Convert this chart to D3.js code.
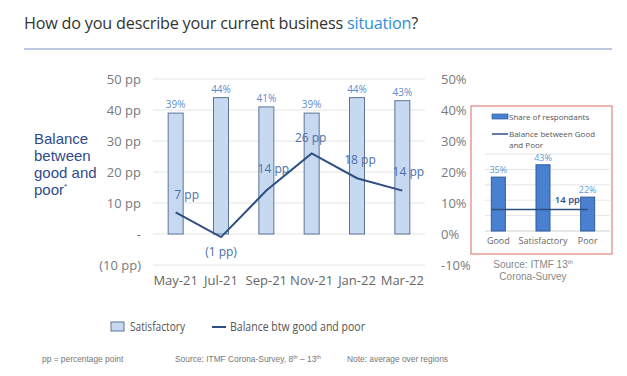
<!DOCTYPE html>
<html><head><meta charset="utf-8">
<script src="https://cdn.jsdelivr.net/npm/d3@7"></script>
<style>body{margin:0;background:#fff}svg{display:block}</style>
</head><body>
<svg id="c" width="627" height="376"></svg>
<script>
const months = ["May-21","Jul-21","Sep-21","Nov-21","Jan-22","Mar-22"];
const satisfactory = [39,44,41,39,44,43];
const balance = [7,-1,14,26,18,14];
const leftTicks = [50,40,30,20,10,0,-10];
const leftTickLabels = ["50 pp","40 pp","30 pp","20 pp","10 pp","-","(10 pp)"];
const rightTickLabels = ["50%","40%","30%","20%","10%","0%","-10%"];
const balanceLabels = ["7 pp","(1 pp)","14 pp","26 pp","18 pp","14 pp"];
const insetCats = ["Good","Satisfactory","Poor"];
const insetShare = [35,43,22];
const insetBalance = 14;
const insetTicks = [0,10,20,30,40,50];

const svg = d3.select("#c");
const sans = "'Open Sans', 'Noto Sans', sans-serif";
const arial = "'Liberation Sans', Arial, sans-serif";

// Title
const t = svg.append("text").attr("x",24).attr("y",29).attr("font-family",sans).attr("font-size",16.2)
  .attr("letter-spacing",-0.2).attr("fill","#333");
t.append("tspan").text("How do you describe your current business ");
t.append("tspan").attr("fill","#2f8fd6").text("situation");
t.append("tspan").text("?");
svg.append("line").attr("x1",24).attr("x2",612).attr("y1",49).attr("y2",49).attr("stroke","#a9b9d8").attr("stroke-width",1.5);

// Main chart
const x = d3.scaleBand().domain(months).range([153,425]);
const y = d3.scaleLinear().domain([-10,50]).range([265,79]);

const grid = svg.append("g");
leftTicks.forEach(v=>{
  grid.append("line").attr("x1",153).attr("x2",425).attr("y1",y(v)).attr("y2",y(v)).attr("stroke","#e4e4e4").attr("stroke-width",1);
});

const lAxis = svg.append("g").attr("transform","translate(141,0)")
  .call(d3.axisLeft(y).tickValues(leftTicks).tickSize(0).tickPadding(0).tickFormat((d,i)=>leftTickLabels[i]));
lAxis.select(".domain").remove();
lAxis.selectAll("text").attr("font-family",sans).attr("font-size",13).attr("fill","#7a7a7a");

const rAxis = svg.append("g").attr("transform","translate(441,0)")
  .call(d3.axisRight(y).tickValues(leftTicks).tickSize(0).tickPadding(0).tickFormat((d,i)=>rightTickLabels[i]));
rAxis.select(".domain").remove();
rAxis.selectAll("text").attr("font-family",sans).attr("font-size",13).attr("fill","#7a7a7a");

const xAxis = svg.append("g").attr("transform","translate(0,275)")
  .call(d3.axisBottom(x).tickSize(0).tickPadding(0));
xAxis.select(".domain").remove();
xAxis.selectAll("text").attr("font-family",sans).attr("font-size",13).attr("fill","#666").attr("dy","0.8em");

const bw = 15;
svg.append("g").selectAll("rect").data(satisfactory).join("rect")
  .attr("x",(d,i)=>x(months[i])+x.bandwidth()/2-bw/2).attr("width",bw)
  .attr("y",d=>y(d)).attr("height",d=>y(0)-y(d))
  .attr("fill","#c6d9f1").attr("stroke","#5d7595").attr("stroke-width",1);
svg.append("g").selectAll("text").data(satisfactory).join("text")
  .attr("x",(d,i)=>x(months[i])+x.bandwidth()/2).attr("y",d=>y(d)-5)
  .attr("text-anchor","middle").attr("font-family",sans).attr("font-size",10).attr("fill","#5b8bd0")
  .text(d=>d+"%");

const line = d3.line().x((d,i)=>x(months[i])+x.bandwidth()/2).y(d=>y(d));
svg.append("path").datum(balance).attr("d",line).attr("fill","none").attr("stroke","#2e4f82").attr("stroke-width",2);

const lblOff = [[11,-13],[0,19],[7,-18],[-1,-11],[3,-14],[6,-15]];
svg.append("g").selectAll("text").data(balance).join("text")
  .attr("x",(d,i)=>x(months[i])+x.bandwidth()/2+lblOff[i][0]).attr("y",(d,i)=>y(d)+lblOff[i][1])
  .attr("text-anchor","middle").attr("font-family",sans).attr("font-size",12).attr("fill","#4a6fa8")
  .text((d,i)=>balanceLabels[i]);

// Left label
const bl = svg.append("text").attr("font-family",arial).attr("font-size",15).attr("fill","#2f4b8b");
["Balance","between","good and","poor"].forEach((s,i)=>{
  bl.append("tspan").attr("x",34).attr("y",144+i*17).text(s);
});
bl.append("tspan").attr("font-size",8).attr("dy",-6).text("*");

// Legend
svg.append("rect").attr("x",111).attr("y",322).attr("width",13).attr("height",9).attr("fill","#c6d9f1").attr("stroke","#5d7595");
svg.append("text").attr("x",130).attr("y",331).attr("font-family",sans).attr("font-size",13).attr("fill","#555")
  .attr("textLength",55).attr("lengthAdjust","spacingAndGlyphs").text("Satisfactory");
svg.append("line").attr("x1",212).attr("x2",226).attr("y1",327).attr("y2",327).attr("stroke","#2e4f82").attr("stroke-width",2);
svg.append("text").attr("x",230).attr("y",331).attr("font-family",sans).attr("font-size",13).attr("fill","#555")
  .attr("textLength",135).attr("lengthAdjust","spacingAndGlyphs").text("Balance btw good and poor");

// Footnotes
const fs = 8.4;
svg.append("text").attr("x",42).attr("y",362).attr("font-family",arial).attr("font-size",fs).attr("fill","#777").text("pp = percentage point");
const srcF = svg.append("text").attr("x",175).attr("y",362).attr("font-family",arial).attr("font-size",fs).attr("fill","#777");
srcF.append("tspan").text("Source: ITMF Corona-Survey, 8");
srcF.append("tspan").attr("font-size",5.5).attr("dy",-3).text("th");
srcF.append("tspan").attr("dy",3).text(" – 13");
srcF.append("tspan").attr("font-size",5.5).attr("dy",-3).text("th");
svg.append("text").attr("x",347).attr("y",362).attr("font-family",arial).attr("font-size",fs).attr("fill","#777").text("Note: average over regions");

// Inset
svg.append("rect").attr("x",471).attr("y",106).attr("width",141).attr("height",148).attr("fill","none").attr("stroke","#e89a9a").attr("stroke-width",1.5);
const ix = d3.scaleBand().domain(insetCats).range([476,610]);
const iy = d3.scaleLinear().domain([0,50]).range([231,154]);
insetTicks.forEach(v=>{
  svg.append("line").attr("x1",485).attr("x2",610).attr("y1",iy(v)).attr("y2",iy(v)).attr("stroke", v===0?"#d0d0d0":"#e6e6e6");
});
const ibw = 14;
svg.append("g").selectAll("rect").data(insetShare).join("rect")
  .attr("x",(d,i)=>ix(insetCats[i])+ix.bandwidth()/2-ibw/2).attr("width",ibw)
  .attr("y",d=>iy(d)).attr("height",d=>iy(0)-iy(d))
  .attr("fill","#4a80d0").attr("stroke","#2f5a9e");
svg.append("g").selectAll("text").data(insetShare).join("text")
  .attr("x",(d,i)=>ix(insetCats[i])+ix.bandwidth()/2).attr("y",d=>iy(d)-4)
  .attr("text-anchor","middle").attr("font-family",sans).attr("font-size",9).attr("fill","#5b9bd5").text(d=>d+"%");
svg.append("line").attr("x1",ix("Good")+ix.bandwidth()/2-7).attr("x2",ix("Poor")+ix.bandwidth()/2)
  .attr("y1",iy(insetBalance)).attr("y2",iy(insetBalance)).attr("stroke","#2e4f82").attr("stroke-width",1.5);
svg.append("text").attr("x",580).attr("y",iy(insetBalance)-6).attr("text-anchor","end").attr("font-family",sans).attr("font-size",9.5).attr("font-weight",600).attr("fill","#2f4b8b").text(insetBalance+" pp");
const ixAxis = svg.append("g").attr("transform","translate(0,237)").call(d3.axisBottom(ix).tickSize(0).tickPadding(0));
ixAxis.select(".domain").remove();
ixAxis.selectAll("text").attr("font-family",sans).attr("font-size",9).attr("fill","#666").attr("dy","0.8em");

svg.append("rect").attr("x",492).attr("y",114).attr("width",16).attr("height",5).attr("fill","#4a80d0").attr("stroke","#2f5a9e").attr("stroke-width",0.7);
svg.append("text").attr("x",509).attr("y",120).attr("font-family",sans).attr("font-size",8).attr("fill","#555").text("Share of respondants");
svg.append("line").attr("x1",492).attr("x2",508).attr("y1",134).attr("y2",134).attr("stroke","#2e4f82").attr("stroke-width",1.5);
const il = svg.append("text").attr("font-family",sans).attr("font-size",8).attr("fill","#555");
il.append("tspan").attr("x",509).attr("y",137).text("Balance between Good");
il.append("tspan").attr("x",509).attr("y",148).text("and Poor");

const src = svg.append("text").attr("text-anchor","middle").attr("font-family",arial).attr("font-size",10).attr("fill","#888");
const s1 = src.append("tspan").attr("x",533).attr("y",268);
s1.append("tspan").text("Source: ITMF 13");
s1.append("tspan").attr("font-size",6).attr("dy",-4).text("th");
src.append("tspan").attr("x",533).attr("y",280).text("Corona-Survey");
</script>
</body></html>
